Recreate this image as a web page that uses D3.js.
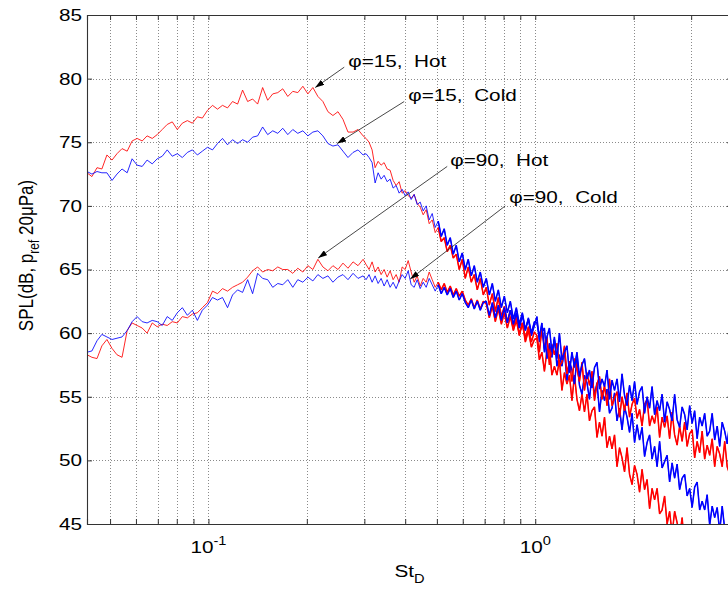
<!DOCTYPE html>
<html>
<head>
<meta charset="utf-8">
<script src="https://cdn.jsdelivr.net/npm/d3@7/dist/d3.min.js"></script>
<style>
  body { margin: 0; background: #fff; }
  svg { display: block; }
  text { font-family: "Liberation Sans", Arial, Helvetica, sans-serif; fill: #000; white-space: pre; }
</style>
</head>
<body>
<svg id="chart"></svg>
<script>
// Strouhal numbers shared by the four spectra
const stValues = [
  0.0425, 0.044, 0.0456, 0.0472, 0.0489, 0.0507, 0.0525, 0.0544, 0.0564, 0.0584,
  0.0605, 0.0627, 0.0649, 0.0673, 0.0697, 0.0722, 0.0748, 0.0775, 0.0803, 0.0832,
  0.0862, 0.0893, 0.0925, 0.0958, 0.0993, 0.1029, 0.1066, 0.1104, 0.1144, 0.1185,
  0.1228, 0.1272, 0.1318, 0.1365, 0.1414, 0.1465, 0.1518, 0.1573, 0.163, 0.1688,
  0.1749, 0.1812, 0.1877, 0.1945, 0.2015, 0.2087, 0.2162, 0.224, 0.2321, 0.2404,
  0.2491, 0.258, 0.2673, 0.277, 0.2869, 0.2973,
  0.3036, 0.3101, 0.3168, 0.3236, 0.3305, 0.3376, 0.3448, 0.3522, 0.3597, 0.3674,
  0.3753, 0.3833, 0.3915, 0.3999, 0.4085, 0.4172, 0.4261, 0.4352, 0.4446, 0.4541,
  0.4638, 0.4737, 0.4839, 0.4942, 0.5048, 0.5156, 0.5266, 0.5379, 0.5494, 0.5612,
  0.5732, 0.5854, 0.598, 0.6108, 0.6238, 0.6372, 0.6508, 0.6647, 0.679, 0.6935,
  0.7083, 0.7235, 0.739, 0.7548, 0.771, 0.7875, 0.8043, 0.8215, 0.8391, 0.8571,
  0.8754, 0.8941, 0.9133, 0.9328, 0.9528, 0.9732, 0.994,
  1.0117, 1.0297, 1.048, 1.0667, 1.0857, 1.105, 1.1247, 1.1447, 1.1651, 1.1858,
  1.2069, 1.2284, 1.2503, 1.2725, 1.2952, 1.3182, 1.3417, 1.3656, 1.3899, 1.4146,
  1.4398, 1.4654, 1.4915, 1.5181, 1.5451, 1.5726, 1.6006, 1.6291, 1.6581, 1.6876,
  1.7176, 1.7482, 1.7793, 1.811, 1.8432, 1.876, 1.9094, 1.9434, 1.978, 2.0132,
  2.049, 2.0855, 2.1226, 2.1604, 2.1989, 2.238, 2.2778, 2.3184, 2.3596, 2.4016,
  2.4444, 2.4879, 2.5322, 2.5772, 2.6231, 2.6698, 2.7173, 2.7657, 2.8149, 2.865,
  2.916, 2.9679, 3.0207, 3.0745, 3.1292, 3.1849, 3.2416, 3.2993, 3.358, 3.4178,
  3.4786, 3.5405, 3.6035, 3.6677, 3.733, 3.7994, 3.867, 3.9359, 4.006
];

// phi = 15 deg, hot jet
const splHot15 = [
  72.6, 72.3, 73.0, 72.9, 74.0, 73.6, 74.1, 74.5, 74.3, 75.1,
  75.3, 75.1, 75.5, 75.3, 75.6, 76.0, 76.4, 76.6, 76.0, 76.5,
  76.7, 76.5, 77.0, 76.9, 77.5, 77.9, 77.6, 77.9, 77.7, 78.2,
  78.0, 79.1, 78.2, 78.4, 78.0, 79.3, 78.3, 78.8, 78.9, 79.2,
  78.6, 79.0, 78.9, 79.4, 78.8, 79.3, 78.6, 78.2, 77.4, 77.1,
  77.4, 76.8, 75.8, 75.8, 76.0, 75.5,
  75.3, 75.0, 74.4, 73.0, 73.5, 73.2, 73.4, 72.9, 72.8, 72.0,
  71.6, 71.9, 71.0, 71.2, 70.8, 70.6, 70.9, 70.2, 69.9, 69.3,
  69.7, 68.6, 68.9, 67.9, 68.3, 67.2, 67.5, 66.4, 66.9, 65.9,
  66.2, 65.0, 65.8, 64.3, 65.2, 64.0, 64.6, 63.4, 64.3, 63.0,
  63.6, 62.2, 63.1, 61.7, 62.8, 61.3, 62.1, 60.9, 61.8, 60.5,
  61.4, 59.9, 60.8, 59.3, 60.2, 58.9, 59.5,
  59.6, 57.9, 58.5, 57.0, 58.6, 58.9, 56.7, 57.4, 56.7, 57.9,
  55.5, 56.9, 56.0, 56.7, 54.7, 56.7, 54.8, 53.9, 55.2, 53.8,
  55.2, 53.1, 53.9, 54.2, 51.8, 53.0, 51.9, 53.4, 51.0, 51.9,
  50.9, 52.0, 49.5, 51.0, 50.2, 49.1, 51.0, 48.9, 48.1, 49.6,
  48.9, 47.5, 49.3, 47.7, 48.5, 46.2, 47.8, 46.9, 47.8, 45.8,
  46.1, 47.2, 45.0, 46.0, 44.2, 46.0, 45.1, 44.0, 45.5, 43.2,
  44.6, 43.6, 44.6, 42.3, 43.5, 44.1, 42.2, 43.2, 41.6, 43.6,
  41.5, 42.0, 42.5, 40.4, 41.9, 40.7, 41.9, 39.9, 40.8
];

// phi = 15 deg, cold jet
const splCold15 = [
  72.7, 72.5, 72.7, 72.6, 72.6, 72.0, 72.5, 72.9, 72.6, 73.7,
  73.2, 73.1, 73.6, 73.3, 73.7, 73.9, 74.4, 73.9, 74.1, 73.8,
  74.2, 74.4, 74.0, 74.3, 74.6, 74.4, 74.9, 75.3, 74.8, 75.2,
  74.9, 75.2, 75.0, 75.4, 75.5, 76.2, 75.6, 75.9, 75.7, 76.1,
  75.6, 76.0, 75.7, 75.9, 75.5, 75.8, 75.9, 75.5, 74.9, 74.7,
  74.8, 74.3, 73.8, 74.2, 74.4, 74.0,
  74.1, 73.8, 73.4, 71.8, 72.6, 72.1, 72.4, 71.9, 72.1, 71.4,
  71.6, 71.0, 71.3, 70.8, 71.1, 70.5, 70.9, 70.1, 70.3, 69.6,
  70.0, 68.9, 69.4, 68.3, 68.8, 67.6, 68.2, 66.9, 67.5, 66.2,
  66.9, 65.6, 66.3, 65.0, 65.8, 64.5, 65.3, 64.0, 64.8, 63.6,
  64.3, 63.0, 63.9, 62.5, 63.4, 62.0, 62.9, 61.6, 62.5, 61.1,
  62.0, 60.7, 61.6, 60.3, 61.1, 59.8, 60.6,
  61.3, 59.3, 60.1, 60.4, 58.0, 59.2, 58.1, 59.7, 57.4, 58.3,
  57.4, 58.6, 56.3, 57.8, 57.1, 56.0, 58.0, 55.9, 55.2, 56.7,
  56.1, 54.8, 56.7, 55.1, 56.1, 53.8, 55.5, 54.7, 55.6, 53.7,
  54.1, 55.3, 53.1, 54.1, 52.4, 54.2, 53.4, 52.2, 53.7, 51.4,
  52.8, 51.6, 52.6, 50.3, 51.4, 52.0, 50.1, 51.1, 49.5, 51.5,
  49.4, 49.9, 50.4, 48.3, 49.8, 48.6, 49.7, 47.7, 48.6, 48.9,
  47.2, 47.8, 46.3, 47.9, 48.3, 46.1, 46.8, 46.1, 47.3, 44.9,
  46.4, 45.5, 46.3, 44.4, 46.4, 44.6, 43.7, 45.1, 43.8
];

// phi = 90 deg, hot jet
const splHot90 = [
  58.3, 58.1, 58.0, 59.0, 59.5, 58.8, 58.3, 58.1, 60.2, 60.8,
  60.6, 60.4, 60.0, 60.8, 60.5, 60.7, 60.6, 60.9, 60.8, 61.3,
  61.2, 61.5, 61.6, 62.0, 62.4, 63.3, 63.1, 63.5, 63.3, 63.6,
  63.8, 64.0, 64.4, 64.9, 65.2, 64.8, 65.0, 64.9, 65.2, 65.0,
  65.0, 64.7, 65.1, 64.8, 65.3, 65.0, 65.8, 65.2, 64.9, 65.3,
  65.0, 65.5, 65.1, 65.6, 65.3, 65.8,
  65.4, 65.0, 65.6, 64.8, 65.2, 64.6, 65.0, 64.4, 64.9, 64.2,
  64.6, 64.0, 65.2, 65.0, 65.7, 64.8, 64.0, 64.5, 63.7, 64.3,
  64.0, 64.8, 64.2, 63.6, 64.0, 63.4, 63.9, 63.2, 63.7, 63.0,
  63.5, 62.9, 63.3, 62.6, 62.2, 62.7, 62.0, 62.6, 61.9, 62.5,
  62.3, 61.2, 62.1, 60.9, 61.9, 60.7, 61.6, 60.4, 61.3, 60.2,
  61.0, 59.8, 60.8, 59.6, 60.5, 59.3, 60.1,
  59.8, 58.5, 60.4, 58.8, 59.7, 57.5, 59.1, 58.3, 59.2, 57.4,
  57.7, 59.0, 56.8, 57.8, 56.2, 58.0, 57.2, 56.2, 57.7, 55.5,
  56.9, 55.9, 57.0, 54.7, 56.0, 56.6, 54.8, 55.9, 54.3, 56.4,
  54.3, 54.9, 55.4, 53.4, 55.0, 53.9, 55.3, 53.4, 54.4, 54.9,
  53.3, 54.0, 52.7, 54.4, 54.8, 52.7, 53.5, 52.9, 54.2, 51.8,
  53.4, 52.6, 53.5, 51.7, 53.8, 52.0, 51.2, 52.7, 51.5, 53.0,
  51.1, 52.1, 52.4, 50.2, 51.5, 50.6, 52.3, 50.1, 51.2, 50.4,
  51.7, 49.5, 51.1, 50.5, 49.5, 51.5, 49.5, 48.9, 50.5
];

// phi = 90 deg, cold jet
const splCold90 = [
  58.5, 58.6, 59.4, 59.9, 59.7, 59.5, 59.6, 59.7, 60.2, 60.9,
  61.3, 60.9, 60.8, 61.0, 60.9, 60.6, 61.3, 61.0, 61.6, 62.0,
  61.4, 61.8, 61.0, 61.8, 62.2, 62.8, 62.6, 62.8, 62.0, 63.0,
  63.4, 63.2, 64.2, 63.1, 64.7, 64.3, 64.2, 63.6, 63.9, 63.8,
  64.2, 63.6, 64.2, 64.0, 64.4, 64.1, 64.6, 64.3, 64.5, 64.0,
  64.4, 64.6, 64.2, 64.7, 64.3, 64.5,
  64.2, 64.6, 64.0, 64.5, 63.9, 64.3, 63.7, 64.2, 63.6, 64.0,
  63.5, 64.1, 64.6, 64.3, 64.9, 63.8, 63.6, 64.2, 63.5, 64.0,
  63.6, 64.3, 63.8, 63.3, 63.8, 63.1, 63.6, 63.0, 63.5, 62.8,
  63.3, 62.6, 63.1, 62.4, 62.0, 62.6, 61.9, 62.5, 61.8, 62.4,
  62.5, 61.4, 62.4, 61.2, 62.2, 61.0, 62.0, 60.8, 61.8, 60.7,
  61.6, 60.4, 61.4, 60.2, 61.2, 60.0, 60.9,
  60.8, 59.7, 60.8, 58.5, 59.7, 60.4, 58.5, 59.5, 58.0, 60.0,
  57.9, 58.5, 59.0, 56.9, 58.5, 57.3, 58.5, 56.6, 57.5, 58.0,
  56.4, 57.1, 55.7, 57.3, 57.7, 55.6, 56.4, 55.8, 57.1, 54.8,
  56.3, 55.5, 56.4, 54.6, 56.8, 55.1, 54.3, 55.9, 54.7, 56.2,
  54.4, 55.4, 55.8, 53.7, 55.0, 54.1, 55.8, 53.6, 54.7, 53.9,
  55.2, 53.0, 54.6, 54.0, 53.1, 55.2, 53.2, 52.6, 54.2, 53.6,
  52.4, 54.3, 52.9, 53.9, 51.7, 53.4, 52.7, 53.7, 51.9, 52.3,
  53.7, 51.6, 52.7, 51.1, 53.0, 52.3, 51.3, 53.0, 50.8
];

const yTickValues = [45, 50, 55, 60, 65, 70, 75, 80, 85];
const xMajorTicks = [0.1, 1];
const xMajorExponents = ["-1", "0"];
const xMinorTicks = [0.05, 0.06, 0.07, 0.08, 0.09, 0.2, 0.3, 0.4, 0.5, 0.6, 0.7, 0.8, 0.9, 2, 3, 4];

// annotation text anchors, arrow tails and arrow heads in data units (St, dB)
const noteLabels = ["φ=15,  Hot", "φ=15,  Cold", "φ=90,  Hot", "φ=90,  Cold"];
const noteTextPos = [[0.2677, 81.4], [0.4087, 78.7], [0.5493, 73.6], [0.8326, 70.7]];
const noteTailPos = [[0.2603, 80.9], [0.3972, 78.2], [0.5378, 73.1], [0.8095, 70.0]];
const noteHeadPos = [[0.2122, 79.3], [0.2477, 74.9], [0.2167, 65.9], [0.4144, 64.25]];

const series = [
  { values: splHot15, color: "#ff0000" },
  { values: splCold15, color: "#0000ff" },
  { values: splHot90, color: "#ff0000" },
  { values: splCold90, color: "#0000ff" }
];

const margin = { top: 15, right: -4, bottom: 68, left: 87 };
const width = 728 - margin.left - margin.right;
const height = 592 - margin.top - margin.bottom;
const SX = 1.22; // the picture is a little wider than tall, so is the lettering

const svg = d3.select("#chart").attr("width", 728).attr("height", 592);
const g = svg.append("g").attr("transform", `translate(${margin.left},${margin.top})`);

const x = d3.scaleLog().domain([0.0425, 4]).range([0, width]);
const y = d3.scaleLinear().domain([45, 85]).range([height, 0]);

function stretchedText(parent, px, py) {
  return parent.append("text")
    .attr("transform", `translate(${px},${py}) scale(${SX},1)`)
    .attr("font-size", 17);
}

// grid
const xGrid = xMajorTicks.concat(xMinorTicks).filter(d => d < 4);
g.append("g").selectAll("line").data(xGrid).join("line")
  .attr("x1", d => Math.round(x(d)) + 0.5).attr("x2", d => Math.round(x(d)) + 0.5)
  .attr("y1", 0).attr("y2", height)
  .attr("stroke", "#8a8a8a").attr("stroke-dasharray", "1,2");
g.append("g").selectAll("line").data(yTickValues.slice(1, -1)).join("line")
  .attr("x1", 0).attr("x2", width)
  .attr("y1", d => Math.round(y(d)) + 0.5).attr("y2", d => Math.round(y(d)) + 0.5)
  .attr("stroke", "#8a8a8a").attr("stroke-dasharray", "1,2");

// spectra
g.append("clipPath").attr("id", "plot-clip")
  .append("rect").attr("width", width).attr("height", height);

const line = d3.line().x(d => x(d.st)).y(d => y(d.spl));
series.forEach(s => {
  const pts = stValues.map((st, i) => ({ st, spl: s.values[i] })).filter(d => d.spl !== undefined);
  g.append("path")
    .datum(pts)
    .attr("clip-path", "url(#plot-clip)")
    .attr("fill", "none")
    .attr("stroke", s.color)
    .attr("stroke-width", 0.85)
    .attr("d", line);
  // the measured spectra get very dense above St ~ 0.5; a heavier stroke there
  g.append("path")
    .datum(pts.filter(d => d.st >= 0.5))
    .attr("clip-path", "url(#plot-clip)")
    .attr("fill", "none")
    .attr("stroke", s.color)
    .attr("stroke-width", 1.5)
    .attr("stroke-linejoin", "bevel")
    .attr("d", line);
});

// axes with inward ticks
const allXTicks = xMajorTicks.concat(xMinorTicks);
const axes = [
  g.append("g").attr("transform", `translate(0,${height})`)
    .call(d3.axisBottom(x).tickValues(allXTicks).tickSize(-5).tickFormat("")),
  g.append("g")
    .call(d3.axisTop(x).tickValues(allXTicks).tickSize(-5).tickFormat("")),
  g.append("g")
    .call(d3.axisLeft(y).tickValues(yTickValues).tickSize(-5).tickFormat("")),
  g.append("g").attr("transform", `translate(${width},0)`)
    .call(d3.axisRight(y).tickValues(yTickValues).tickSize(-5).tickFormat(""))
];
axes.forEach(a => {
  a.select(".domain").attr("stroke", "#333").attr("stroke-width", 1.1);
  a.selectAll(".tick line").attr("stroke", "#333");
});

// tick labels
yTickValues.forEach(v => {
  stretchedText(g, -5, y(v)).attr("text-anchor", "end").attr("dy", "0.35em").text(v);
});
xMajorTicks.forEach((v, i) => {
  const t = stretchedText(g, x(v), height + 29).attr("text-anchor", "middle");
  t.append("tspan").text("10");
  t.append("tspan").attr("dy", -8).attr("font-size", 12).text(xMajorExponents[i]);
});

// axis titles
const xTitle = stretchedText(g, width / 2, height + 53).attr("text-anchor", "middle");
xTitle.append("tspan").text("St");
xTitle.append("tspan").attr("dy", 6).attr("font-size", 12).text("D");

const yTitle = g.append("text")
  .attr("transform", `translate(-54,${height / 2 - 14}) scale(${SX},1) rotate(-90)`)
  .attr("font-size", 17)
  .attr("text-anchor", "middle");
yTitle.append("tspan").text("SPL(dB, p");
yTitle.append("tspan").attr("dy", 5).attr("font-size", 12).text("ref");
yTitle.append("tspan").attr("dy", -5).text(" 20μPa)");

// arrows with labels
svg.append("defs").append("marker")
  .attr("id", "head")
  .attr("viewBox", "0 0 10 10")
  .attr("refX", 10).attr("refY", 5)
  .attr("markerUnits", "userSpaceOnUse")
  .attr("markerWidth", 9).attr("markerHeight", 6)
  .attr("preserveAspectRatio", "none")
  .attr("orient", "auto")
  .append("path").attr("d", "M0,0L10,5L0,10Z").attr("fill", "#000");

noteLabels.forEach((label, i) => {
  g.append("line")
    .attr("x1", x(noteTailPos[i][0])).attr("y1", y(noteTailPos[i][1]))
    .attr("x2", x(noteHeadPos[i][0])).attr("y2", y(noteHeadPos[i][1]))
    .attr("stroke", "#333").attr("stroke-width", 0.9)
    .attr("marker-end", "url(#head)");
  stretchedText(g, x(noteTextPos[i][0]), y(noteTextPos[i][1]))
    .attr("dy", "0.35em")
    .text(label);
});
</script>
</body>
</html>
